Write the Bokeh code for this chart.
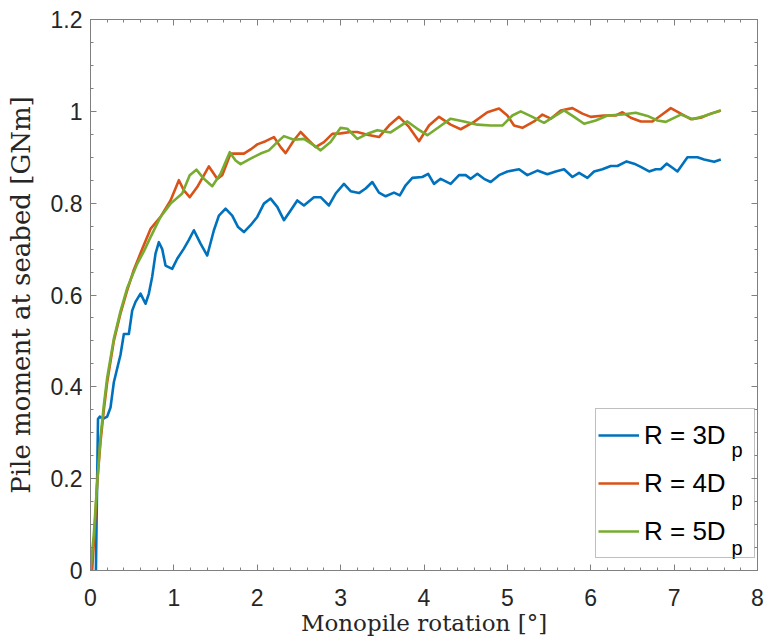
import numpy as np
from bokeh.plotting import figure
from bokeh.models import FixedTicker, LinearAxis, Legend, LegendItem, Label, Range1d
from bokeh.embed import file_html
from bokeh.resources import INLINE

# ---------------- data ----------------
x_3d = [0.065, 0.08, 0.09, 0.11, 0.15, 0.20, 0.24, 0.28, 0.32, 0.36, 0.40, 0.46, 0.50, 0.54,
        0.60, 0.66, 0.70, 0.74, 0.78, 0.82, 0.86, 0.90, 0.98, 1.04, 1.12, 1.18, 1.24, 1.32,
        1.40, 1.48, 1.54, 1.62, 1.70, 1.77, 1.84, 1.92, 2.00, 2.08, 2.16, 2.24, 2.32, 2.40,
        2.48, 2.56, 2.68, 2.76, 2.86, 2.94, 3.04, 3.12, 3.22, 3.30, 3.38, 3.46, 3.54, 3.64,
        3.71, 3.78, 3.86, 3.98, 4.05, 4.12, 4.20, 4.32, 4.42, 4.50, 4.56, 4.64, 4.72, 4.80,
        4.90, 5.00, 5.14, 5.24, 5.36, 5.48, 5.58, 5.68, 5.78, 5.86, 5.96, 6.04, 6.14, 6.24,
        6.32, 6.43, 6.52, 6.60, 6.70, 6.78, 6.84, 6.91, 6.98, 7.04, 7.16, 7.28, 7.36, 7.48,
        7.56]
y_3d = [0.0, 0.20, 0.33, 0.335, 0.33, 0.335, 0.355, 0.41, 0.44, 0.47, 0.515, 0.515, 0.566, 0.585,
        0.603, 0.581, 0.603, 0.64, 0.69, 0.715, 0.70, 0.664, 0.657, 0.679, 0.701, 0.72, 0.741, 0.712,
        0.686, 0.741, 0.773, 0.788, 0.773, 0.748, 0.737, 0.752, 0.770, 0.799, 0.810, 0.792, 0.763, 0.784,
        0.806, 0.795, 0.813, 0.813, 0.795, 0.821, 0.842, 0.826, 0.822, 0.832, 0.846, 0.823, 0.815, 0.823,
        0.817, 0.839, 0.855, 0.857, 0.864, 0.842, 0.853, 0.842, 0.861, 0.861, 0.853, 0.864, 0.853, 0.846,
        0.861, 0.869, 0.874, 0.861, 0.871, 0.863, 0.869, 0.874, 0.857, 0.866, 0.855, 0.869, 0.874, 0.881,
        0.881, 0.891, 0.886, 0.879, 0.869, 0.874, 0.874, 0.886, 0.877, 0.869, 0.900, 0.900, 0.895, 0.890,
        0.895]

x_4d = [0.02, 0.05, 0.08, 0.12, 0.16, 0.20, 0.28, 0.36, 0.44, 0.52, 0.62, 0.72, 0.84, 0.96,
        1.06, 1.12, 1.19, 1.28, 1.42, 1.52, 1.58, 1.68, 1.84, 1.92, 2.00, 2.10, 2.20, 2.28,
        2.34, 2.44, 2.52, 2.60, 2.70, 2.80, 2.90, 3.00, 3.12, 3.20, 3.32, 3.46, 3.58, 3.70,
        3.82, 3.94, 4.06, 4.18, 4.32, 4.44, 4.60, 4.76, 4.90, 5.00, 5.08, 5.18, 5.32, 5.42,
        5.52, 5.64, 5.78, 5.90, 6.00, 6.16, 6.30, 6.38, 6.48, 6.60, 6.74, 6.84, 6.96, 7.08,
        7.20, 7.32, 7.44, 7.56]
y_4d = [0.0, 0.09, 0.19, 0.28, 0.35, 0.41, 0.50, 0.56, 0.61, 0.655, 0.70, 0.744, 0.770, 0.806,
        0.850, 0.828, 0.813, 0.835, 0.880, 0.853, 0.861, 0.908, 0.908, 0.917, 0.928, 0.935, 0.944, 0.922,
        0.909, 0.937, 0.955, 0.940, 0.922, 0.933, 0.951, 0.952, 0.955, 0.955, 0.949, 0.944, 0.969, 0.988,
        0.966, 0.935, 0.969, 0.988, 0.971, 0.961, 0.977, 0.998, 1.006, 0.991, 0.969, 0.964, 0.978, 0.993,
        0.984, 1.002, 1.007, 0.995, 0.988, 0.991, 0.991, 0.998, 0.986, 0.978, 0.978, 0.991, 1.007, 0.995,
        0.983, 0.986, 0.995, 1.002]

x_5d = [0.0, 0.04, 0.08, 0.12, 0.16, 0.20, 0.28, 0.36, 0.44, 0.56, 0.64, 0.72, 0.84, 0.96,
        1.10, 1.19, 1.27, 1.36, 1.46, 1.56, 1.67, 1.74, 1.80, 1.92, 2.04, 2.14, 2.24, 2.32,
        2.44, 2.56, 2.68, 2.76, 2.88, 3.00, 3.08, 3.20, 3.32, 3.44, 3.60, 3.80, 3.92, 4.04,
        4.18, 4.32, 4.48, 4.64, 4.80, 4.94, 5.06, 5.16, 5.30, 5.44, 5.52, 5.68, 5.80, 5.92,
        6.06, 6.20, 6.38, 6.54, 6.68, 6.80, 6.90, 7.08, 7.22, 7.36, 7.56]
y_5d = [0.0, 0.08, 0.19, 0.29, 0.36, 0.42, 0.505, 0.565, 0.615, 0.668, 0.695, 0.726, 0.770, 0.799,
        0.821, 0.861, 0.873, 0.853, 0.837, 0.864, 0.911, 0.893, 0.885, 0.897, 0.908, 0.915, 0.933, 0.946,
        0.938, 0.940, 0.926, 0.915, 0.933, 0.964, 0.962, 0.940, 0.951, 0.959, 0.954, 0.978, 0.962, 0.948,
        0.966, 0.984, 0.978, 0.971, 0.969, 0.969, 0.991, 1.000, 0.988, 0.975, 0.984, 1.002, 0.988, 0.973,
        0.980, 0.991, 0.993, 0.997, 0.990, 0.980, 0.977, 0.993, 0.983, 0.990, 1.002]

series_labels = ["R = 3D", "R = 4D", "R = 5D"]
label_subscript = "p"
series_colors = ["#0072BD", "#D95319", "#77AC30"]

x_ticks = [0, 1, 2, 3, 4, 5, 6, 7, 8]
y_ticks = [0, 0.2, 0.4, 0.6, 0.8, 1, 1.2]
y_tick_labels = ["0", "0.2", "0.4", "0.6", "0.8", "1", "1.2"]
x_label = "Monopile rotation [°]"
y_label = "Pile moment at seabed [GNm]"

# ---------------- figure ----------------
AX = "#808080"
TXT = "#262626"

p = figure(width=764, height=641, x_range=Range1d(0, 8), y_range=Range1d(0, 1.2),
           output_backend="svg", toolbar_location=None,
           min_border_left=90, min_border_right=7, min_border_top=19, min_border_bottom=71,
           background_fill_color="white", border_fill_color="white", outline_line_color=None)
p.grid.visible = False

x_minor = [round(v, 2) for v in np.arange(0, 8.001, 0.2)]
y_minor = [round(v, 3) for v in np.arange(0, 1.2001, 0.05)]


def style(ax, show_labels):
    ax.axis_line_color = AX
    ax.axis_line_width = 1
    ax.major_tick_line_color = AX
    ax.minor_tick_line_color = AX
    ax.major_tick_in = 6
    ax.major_tick_out = 0
    ax.minor_tick_in = 3
    ax.minor_tick_out = 0
    ax.major_label_text_font = "Liberation Sans"
    ax.major_label_text_color = TXT
    if show_labels:
        ax.major_label_text_font_size = "23px"
    else:
        ax.major_label_text_font_size = "1px"
        ax.major_label_standoff = 0


p.xaxis.ticker = FixedTicker(ticks=x_ticks, minor_ticks=x_minor)
p.yaxis.ticker = FixedTicker(ticks=y_ticks, minor_ticks=y_minor)
p.yaxis.major_label_overrides = {t: s for t, s in zip(y_ticks, y_tick_labels)}
style(p.xaxis[0], True)
style(p.yaxis[0], True)
p.xaxis.major_label_standoff = 18
p.yaxis.major_label_standoff = 8

p.xaxis.axis_label = x_label
p.yaxis.axis_label = y_label
for ax, size, standoff in ((p.xaxis[0], "23px", 1), (p.yaxis[0], "26px", 12)):
    ax.axis_label_text_font = "DejaVu Serif"
    ax.axis_label_text_font_style = "normal"
    ax.axis_label_text_font_size = size
    ax.axis_label_text_color = TXT
    ax.axis_label_standoff = standoff

top = LinearAxis(ticker=FixedTicker(ticks=x_ticks, minor_ticks=x_minor),
                 major_label_overrides={t: "" for t in x_ticks})
right = LinearAxis(ticker=FixedTicker(ticks=y_ticks, minor_ticks=y_minor),
                   major_label_overrides={t: "" for t in y_ticks})
style(top, False)
style(right, False)
p.add_layout(top, "above")
p.add_layout(right, "right")

renderers = []
for xs, ys, col in zip((x_3d, x_4d, x_5d), (y_3d, y_4d, y_5d), series_colors):
    r = p.line(xs, ys, line_color=col, line_width=2.6, line_join="round")
    renderers.append(r)

legend = Legend(items=[LegendItem(label=l, renderers=[r]) for l, r in zip(series_labels, renderers)],
                location=(505, 12), padding=2, spacing=0, margin=0,
                glyph_width=41, glyph_height=48, label_height=48, label_width=108,
                label_standoff=5, border_line_color=AX, border_line_width=1,
                background_fill_color=None,
                label_text_font="Liberation Sans", label_text_font_size="26px",
                label_text_color="black")
p.add_layout(legend)

for i in range(len(series_labels)):
    p.add_layout(Label(x=641, y=121 - 49 * i, x_units="screen", y_units="screen",
                       text=label_subscript, text_font="Liberation Sans",
                       text_font_size="20px", text_color="black",
                       text_baseline="alphabetic", text_align="left"))

open("out.html", "w").write(file_html(p, INLINE))
